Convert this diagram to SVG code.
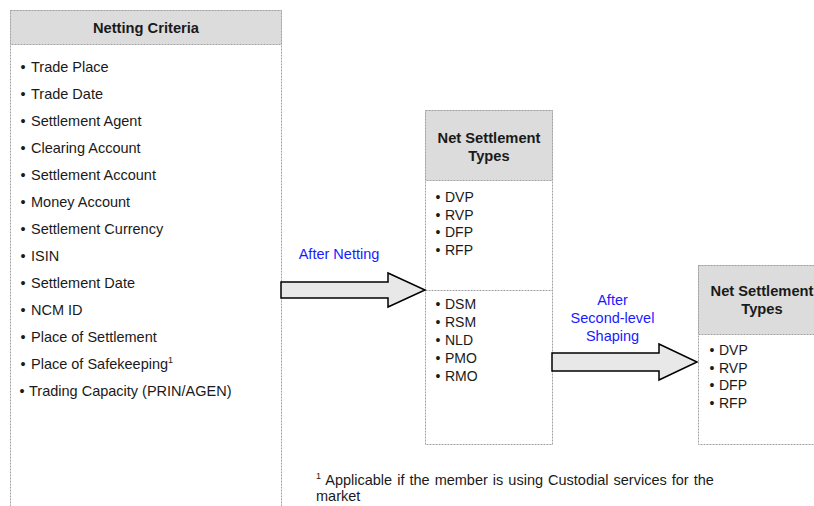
<svg xmlns="http://www.w3.org/2000/svg" width="814" height="506" viewBox="0 0 814 506">
<style>
text{font-family:"Liberation Sans",Arial,sans-serif;fill:#1a1a1a}
.hd{font-weight:bold;font-size:14.7px;text-anchor:middle}
.it{font-size:14.5px}
.sm{font-size:14px}
.bl{fill:#1a1aff;font-size:14.5px;text-anchor:middle}
.box{fill:#fff;stroke:#a0a0a0;stroke-width:1;stroke-dasharray:2,1}
.hbox{fill:#dcdcdc;stroke:#a0a0a0;stroke-width:1;stroke-dasharray:2,1}
.arr{fill:#e8e8e8;stroke:#000;stroke-width:1.5;stroke-linejoin:miter}
</style>
<rect width="814" height="506" fill="#fff"/>
<g id="netting-criteria">
<rect class="box" x="10.5" y="10.5" width="271" height="520"/>
<rect class="hbox" x="10.5" y="10.5" width="271" height="34"/>
<text class="hd" x="146" y="32.5">Netting Criteria</text>
<g class="it">
<text class="it" x="20.5" y="72">•</text><text class="it" x="31" y="72">Trade Place</text>
<text class="it" x="20.5" y="99">•</text><text class="it" x="31" y="99">Trade Date</text>
<text class="it" x="20.5" y="126">•</text><text class="it" x="31" y="126">Settlement Agent</text>
<text class="it" x="20.5" y="153">•</text><text class="it" x="31" y="153">Clearing Account</text>
<text class="it" x="20.5" y="180">•</text><text class="it" x="31" y="180">Settlement Account</text>
<text class="it" x="20.5" y="207">•</text><text class="it" x="31" y="207">Money Account</text>
<text class="it" x="20.5" y="234">•</text><text class="it" x="31" y="234">Settlement Currency</text>
<text class="it" x="20.5" y="261">•</text><text class="it" x="31" y="261">ISIN</text>
<text class="it" x="20.5" y="288">•</text><text class="it" x="31" y="288">Settlement Date</text>
<text class="it" x="20.5" y="315">•</text><text class="it" x="31" y="315">NCM ID</text>
<text class="it" x="20.5" y="342">•</text><text class="it" x="31" y="342">Place of Settlement</text>
<text class="it" x="20.5" y="369">•</text><text class="it" x="31" y="369">Place of Safekeeping<tspan font-size="9" dy="-6">1</tspan></text>
<text class="it" x="19.5" y="396">•</text><text class="it" x="29" y="396">Trading Capacity (PRIN/AGEN)</text>
</g>
</g>
<g id="net-settlement-types-1">
<rect class="box" x="425.5" y="110.5" width="127" height="334"/>
<rect class="hbox" x="425.5" y="110.5" width="127" height="70"/>
<line class="box" x1="425.5" y1="290.5" x2="552.5" y2="290.5"/>
<text class="hd" x="489" y="143">Net Settlement</text>
<text class="hd" x="489" y="161">Types</text>
<text class="sm" x="435.5" y="202">•</text><text class="sm" x="445" y="202">DVP</text>
<text class="sm" x="435.5" y="219.5">•</text><text class="sm" x="445" y="219.5">RVP</text>
<text class="sm" x="435.5" y="237">•</text><text class="sm" x="445" y="237">DFP</text>
<text class="sm" x="435.5" y="254.5">•</text><text class="sm" x="445" y="254.5">RFP</text>
<text class="sm" x="435.5" y="309">•</text><text class="sm" x="445" y="309">DSM</text>
<text class="sm" x="435.5" y="327">•</text><text class="sm" x="445" y="327">RSM</text>
<text class="sm" x="435.5" y="345">•</text><text class="sm" x="445" y="345">NLD</text>
<text class="sm" x="435.5" y="363">•</text><text class="sm" x="445" y="363">PMO</text>
<text class="sm" x="435.5" y="381">•</text><text class="sm" x="445" y="381">RMO</text>
</g>
<g id="net-settlement-types-2">
<rect class="box" x="698.5" y="265.5" width="127" height="179"/>
<rect class="hbox" x="698.5" y="265.5" width="127" height="69"/>
<text class="hd" x="762" y="296">Net Settlement</text>
<text class="hd" x="762" y="314">Types</text>
<text class="sm" x="709.5" y="355">•</text><text class="sm" x="719" y="355">DVP</text>
<text class="sm" x="709.5" y="372.5">•</text><text class="sm" x="719" y="372.5">RVP</text>
<text class="sm" x="709.5" y="390">•</text><text class="sm" x="719" y="390">DFP</text>
<text class="sm" x="709.5" y="407.5">•</text><text class="sm" x="719" y="407.5">RFP</text>
</g>
<g id="connectors">
<polygon class="arr" points="281,282 388,282 388,273 425,290 388,307 388,298 281,298"/>
<polygon class="arr" points="552,353 659,353 659,344 697,362 659,380 659,371 552,371"/>
<text class="bl" x="339" y="259">After Netting</text>
<text class="bl" x="612.5" y="305">After</text>
<text class="bl" x="612.5" y="323">Second-level</text>
<text class="bl" x="612.5" y="341">Shaping</text>
</g>
<g id="footnote">
<text class="it" x="316" y="485" word-spacing="1"><tspan font-size="9" dy="-6">1</tspan><tspan dy="6"> Applicable if the member is using Custodial services for the</tspan></text>
<text class="it" x="316" y="501">market</text>
</g>
</svg>
